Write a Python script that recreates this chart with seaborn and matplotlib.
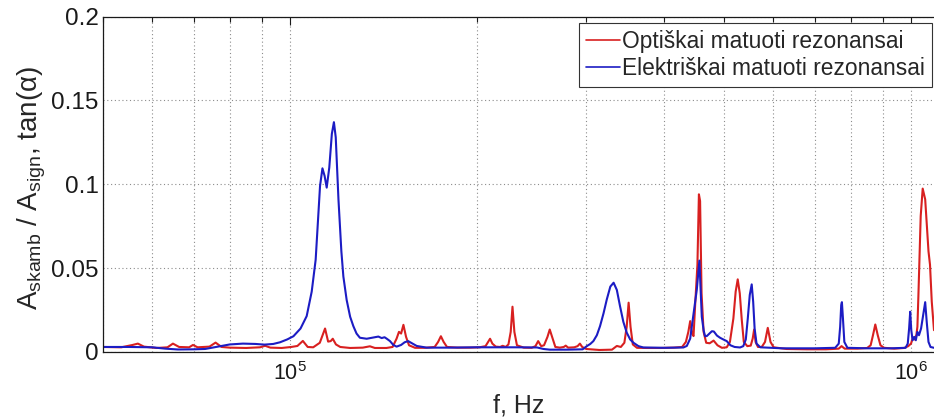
import numpy as np
import pandas as pd
import matplotlib
matplotlib.use("Agg")
import matplotlib.pyplot as plt
from matplotlib.lines import Line2D
from matplotlib.ticker import LogLocator, NullFormatter, FuncFormatter
import seaborn as sns

# Optically measured resonances: frequency (Hz) and relative amplitude
red_f = [50000, 53500, 55800, 56900, 58200, 61000, 63500, 64800, 66300, 68800,
         69800, 71000, 74200, 75900, 77600, 80000, 85000, 89500, 91200, 93000,
         97000, 100500, 102800, 104900, 106800, 109000, 111700, 113900, 115200, 116300,
         117200, 118600, 120500, 125000, 131000, 134500, 137000, 143000, 146300, 148500,
         149800, 151000, 152300, 153800, 155500, 159000, 165000, 171000, 173200, 175000,
         176800, 179000, 186000, 195000, 202000, 206500, 208500, 210000, 211800, 214500,
         218000, 220000, 222500, 224800, 226700, 228200, 229800, 232000, 238000, 245000,
         248500, 251000, 253800, 256500, 259800, 262000, 264300, 267500, 272000, 276000,
         278000, 280500, 287000, 290500, 293000, 295500, 300000, 315000, 330000, 336000,
         341000, 345500, 348500, 351000, 353500, 356500, 362000, 375000, 395000, 415000,
         428000, 434000, 438000, 441000, 444000, 446500, 449500, 453000, 455500, 457500,
         460000, 463500, 468000, 474000, 481000, 488000, 496000, 505000, 511000, 517600,
         522000, 526000, 530000, 534000, 538000, 545000, 552000, 556000, 559000, 562000,
         567000, 575000, 582000, 588000, 594000, 601000, 630000, 680000, 730000, 765000,
         773000, 782000, 820000, 850000, 861000, 868500, 876000, 884000, 893000, 905000,
         940000, 975000, 990000, 1000000, 1007000, 1013000, 1020000, 1024000, 1027700, 1036600,
         1044300, 1054000, 1067000, 1073000, 1080000, 1089000]
red_a = [0.0030, 0.0028, 0.0042, 0.0050, 0.0032, 0.0024, 0.0028, 0.0050, 0.0030, 0.0028,
         0.0042, 0.0028, 0.0032, 0.0056, 0.0030, 0.0026, 0.0024, 0.0028, 0.0037, 0.0026,
         0.0024, 0.0030, 0.0036, 0.0066, 0.0030, 0.0028, 0.0055, 0.0140, 0.0062, 0.0065,
         0.0079, 0.0045, 0.0030, 0.0024, 0.0026, 0.0034, 0.0024, 0.0024, 0.0030, 0.0080,
         0.0120, 0.0110, 0.0162, 0.0090, 0.0040, 0.0025, 0.0025, 0.0030, 0.0060, 0.0094,
         0.0060, 0.0030, 0.0026, 0.0026, 0.0028, 0.0035, 0.0060, 0.0079, 0.0050, 0.0032,
         0.0030, 0.0037, 0.0030, 0.0045, 0.0120, 0.0270, 0.0120, 0.0040, 0.0026, 0.0025,
         0.0035, 0.0065, 0.0035, 0.0040, 0.0090, 0.0134, 0.0090, 0.0030, 0.0026, 0.0030,
         0.0038, 0.0026, 0.0028, 0.0035, 0.0050, 0.0030, 0.0018, 0.0012, 0.0014, 0.0036,
         0.0030, 0.0055, 0.0150, 0.0294, 0.0150, 0.0045, 0.0025, 0.0024, 0.0024, 0.0026,
         0.0030, 0.0060, 0.0120, 0.0184, 0.0110, 0.0095, 0.0300, 0.0520, 0.0940, 0.0900,
         0.0350, 0.0120, 0.0055, 0.0052, 0.0068, 0.0040, 0.0025, 0.0028, 0.0060, 0.0200,
         0.0360, 0.0433, 0.0350, 0.0190, 0.0060, 0.0035, 0.0038, 0.0080, 0.0134, 0.0060,
         0.0030, 0.0030, 0.0060, 0.0144, 0.0060, 0.0028, 0.0018, 0.0016, 0.0016, 0.0020,
         0.0035, 0.0020, 0.0020, 0.0024, 0.0040, 0.0100, 0.0164, 0.0100, 0.0040, 0.0025,
         0.0020, 0.0024, 0.0035, 0.0050, 0.0085, 0.0075, 0.0100, 0.0150, 0.0330, 0.0810,
         0.0974, 0.0910, 0.0600, 0.0520, 0.0300, 0.0130]

# Electrically measured resonances: frequency (Hz) and tan(alpha)
blue_f = [50000, 55000, 60000, 63000, 66000, 70000, 73000, 76000, 80000, 84000,
          88000, 91000, 94000, 96400, 99000, 101300, 104000, 106400, 108400, 110000,
          111000, 111800, 112800, 113700, 114600, 115700, 116800, 117700, 118500, 119700,
          121000, 121900, 123400, 125000, 126500, 128000, 129600, 132900, 136000, 138800,
          140500, 142000, 143200, 144900, 146700, 148500, 151000, 153000, 155000, 157500,
          160000, 166000, 180000, 200000, 230000, 250000, 256000, 262000, 280000, 296000,
          300600, 304500, 308000, 312000, 315700, 319800, 323700, 328000, 332000, 336000,
          340000, 344200, 348600, 353000, 357400, 364000, 370700, 400000, 430000, 435500,
          441000, 446000, 451900, 456300, 458300, 460400, 463500, 466000, 469000, 473500,
          478000, 481500, 487000, 492600, 498500, 505000, 512000, 520000, 530600, 537000,
          542000, 546000, 550000, 554000, 557000, 560000, 564000, 572000, 620000, 700000,
          755000, 765000, 769000, 772000, 774000, 777000, 781000, 790000, 850000, 930000,
          980000, 988000, 993000, 997000, 1001000, 1006000, 1012000, 1018000, 1024000, 1030000,
          1038000, 1046000, 1054000, 1060000, 1067000, 1075000, 1089000]
blue_a = [0.0030, 0.0030, 0.0028, 0.0020, 0.0015, 0.0016, 0.0018, 0.0030, 0.0045, 0.0050,
          0.0048, 0.0044, 0.0048, 0.0058, 0.0075, 0.0094, 0.0140, 0.0214, 0.0360, 0.0550,
          0.0800, 0.0990, 0.1095, 0.1050, 0.0980, 0.1100, 0.1300, 0.1370, 0.1280, 0.0910,
          0.0600, 0.0450, 0.0310, 0.0210, 0.0154, 0.0110, 0.0085, 0.0079, 0.0086, 0.0092,
          0.0083, 0.0088, 0.0079, 0.0065, 0.0042, 0.0032, 0.0042, 0.0058, 0.0065, 0.0050,
          0.0036, 0.0026, 0.0026, 0.0028, 0.0028, 0.0027, 0.0018, 0.0014, 0.0014, 0.0016,
          0.0035, 0.0048, 0.0065, 0.0100, 0.0154, 0.0230, 0.0313, 0.0390, 0.0413, 0.0370,
          0.0273, 0.0180, 0.0115, 0.0075, 0.0055, 0.0035, 0.0027, 0.0025, 0.0027, 0.0036,
          0.0080, 0.0214, 0.0370, 0.0545, 0.0380, 0.0210, 0.0130, 0.0094, 0.0095, 0.0110,
          0.0124, 0.0122, 0.0098, 0.0085, 0.0075, 0.0065, 0.0040, 0.0030, 0.0027, 0.0035,
          0.0075, 0.0200, 0.0340, 0.0403, 0.0300, 0.0140, 0.0050, 0.0028, 0.0022, 0.0022,
          0.0025, 0.0050, 0.0150, 0.0280, 0.0297, 0.0200, 0.0060, 0.0025, 0.0022, 0.0022,
          0.0025, 0.0050, 0.0140, 0.0240, 0.0130, 0.0070, 0.0090, 0.0070, 0.0120, 0.0100,
          0.0140, 0.0220, 0.0297, 0.0180, 0.0060, 0.0030, 0.0025]

label_red = "Optiškai matuoti rezonansai"
label_blue = "Elektriškai matuoti rezonansai"
color_red = "#d82020"
color_blue = "#1c1cc4"

y_ticks = [0, 0.05, 0.1, 0.15, 0.2]

df = pd.concat([
    pd.DataFrame({"f": red_f, "A": red_a, "serija": label_red}),
    pd.DataFrame({"f": blue_f, "A": blue_a, "serija": label_blue}),
], ignore_index=True)

sns.set_style("white")
plt.rcParams["font.family"] = ["Liberation Sans", "DejaVu Sans"]
plt.rcParams["mathtext.fontset"] = "custom"
plt.rcParams["mathtext.rm"] = "Liberation Sans"
plt.rcParams["mathtext.it"] = "Liberation Sans:italic"
plt.rcParams["mathtext.bf"] = "Liberation Sans:bold"

W, H = 934, 420
fig = plt.figure(figsize=(W / 100, H / 100), dpi=100)
ax = fig.add_axes([103 / W, (H - 352) / H, (W - 103) / W, (352 - 16.5) / H])
ax.set_xscale("log")

sns.lineplot(data=df, x="f", y="A", hue="serija", hue_order=[label_red, label_blue],
             palette=[color_red, color_blue], estimator=None, sort=False,
             linewidth=1.5, legend=False, ax=ax)

ax.set_xlim(5e4, 1.089e6)
ax.set_ylim(0, 0.2)

ax.xaxis.set_major_locator(LogLocator(base=10, numticks=10))
ax.xaxis.set_minor_locator(LogLocator(base=10, subs=np.arange(2, 10), numticks=40))
ax.xaxis.set_minor_formatter(NullFormatter())
ax.set_yticks(y_ticks)
ax.yaxis.set_major_formatter(FuncFormatter(lambda v, p: f"{v:g}"))

grid_kw = dict(color="#8c8c8c", linestyle=(0, (1, 2.4)), linewidth=0.8)
ax.grid(True, which="both", axis="x", **grid_kw)
ax.grid(True, which="major", axis="y", **grid_kw)
ax.set_axisbelow(True)

ax.tick_params(which="both", direction="in", top=True, right=False, colors="#1a1a1a",
               width=0.8)
ax.tick_params(which="major", length=6)
ax.tick_params(which="minor", length=3.5)
ax.tick_params(axis="y", labelsize=17.5, pad=3)
ax.tick_params(axis="x", labelsize=15.5, pad=7)

for side in ("left", "bottom", "top"):
    ax.spines[side].set_color("#1a1a1a")
    ax.spines[side].set_linewidth(0.9)
ax.spines["right"].set_visible(False)

ax.set_xlabel("f, Hz", fontsize=18)
ax.xaxis.set_label_coords(0.5, -0.125)
ax.set_ylabel("A$_{\\mathregular{skamb}}$ / A$_{\\mathregular{sign}}$, tan(α)", fontsize=20)
ax.yaxis.set_label_coords(-0.066, 0.49)

handles = [Line2D([0], [0], color=color_red, lw=1.2),
           Line2D([0], [0], color=color_blue, lw=1.2)]
leg = ax.legend(handles, [label_red, label_blue], loc="upper right",
                bbox_to_anchor=(932 / W, (H - 23) / H), bbox_transform=fig.transFigure,
                borderaxespad=0, fontsize=16.4, frameon=True, fancybox=False,
                edgecolor="#333333", framealpha=1, handlelength=1.5,
                handletextpad=0.1, borderpad=0.3, labelspacing=0.2)
leg.get_frame().set_linewidth(0.8)

fig.savefig("out.png", dpi=100)
